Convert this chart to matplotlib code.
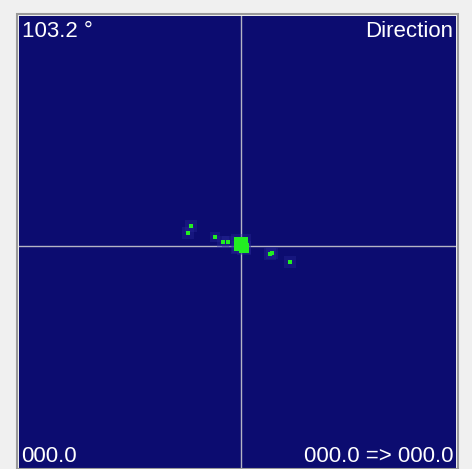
import matplotlib
matplotlib.use("Agg")
import matplotlib.pyplot as plt
from matplotlib.patches import Rectangle
from matplotlib import font_manager

W, H = 472, 469
DPI = 100

# Data: scatter point offsets from the crosshair centre (x right, y up), in display units
pt_x = [-50, -53, -26, -18, -13, 0, 3, -3, 29, 31, 49]
pt_y = [20, 13, 9, 4, 4, 2, -2, -1, -8, -7, -16]
pt_size = [9, 9, 7, 8, 8, 100, 45, 40, 9, 9, 10]

# Axis extent (display units around the centre)
x_min, x_max = -222, 215
y_min, y_max = -223, 230

angle_label = "103.2 °"
title_label = "Direction"
left_value = "000.0"
right_value = "000.0 => 000.0"

fams = [f.name for f in font_manager.fontManager.ttflist]
narrow = "Liberation Sans Narrow" if "Liberation Sans Narrow" in fams else "Liberation Sans"

fig = plt.figure(figsize=(W / DPI, H / DPI), dpi=DPI, facecolor="#f0f0f0")
left, right, top = 19, 456, 16
ax = fig.add_axes([left / W, 0, (right - left) / W, 1 - top / H])
ax.set_facecolor("#0c0c70")
ax.set_xlim(x_min, x_max)
ax.set_ylim(y_min, y_max)
for s in ax.spines.values():
    s.set_visible(False)
ax.set_xticks([])
ax.set_yticks([])

# Frame around the panel
fig.patches.append(Rectangle(((left - 2) / W, 0), (right - left + 4) / W, 1 - (top - 2) / H,
                             transform=fig.transFigure, fill=False, edgecolor="#9a9a9a",
                             linewidth=1.5, zorder=0))

# Crosshair
ax.axhline(0, color="#b4b4c4", linewidth=1.0, zorder=1)
ax.axvline(0, color="#b4b4c4", linewidth=1.0, zorder=1)

# Faint halos
ax.scatter(pt_x, pt_y, s=[s * 8 if s < 20 else s * 2 for s in pt_size], marker="s",
           color="#2a2a9a", alpha=0.35, linewidths=0, zorder=2)
# Points
ax.scatter(pt_x, pt_y, s=pt_size, marker="s", color="#22ee22", linewidths=0, zorder=3)

fs = 16
ax.text(0.006, 0.99, angle_label, transform=ax.transAxes, ha="left", va="top",
        color="white", fontsize=fs, family=[narrow, "DejaVu Sans"])
ax.text(0.994, 0.99, title_label, transform=ax.transAxes, ha="right", va="top",
        color="white", fontsize=fs, family=[narrow, "DejaVu Sans"])
ax.text(0.006, 0.004, left_value, transform=ax.transAxes, ha="left", va="bottom",
        color="white", fontsize=fs, family=[narrow, "DejaVu Sans"])
ax.text(0.994, 0.004, right_value, transform=ax.transAxes, ha="right", va="bottom",
        color="white", fontsize=fs, family=[narrow, "DejaVu Sans"])

fig.savefig("out.png", dpi=DPI, facecolor=fig.get_facecolor())
